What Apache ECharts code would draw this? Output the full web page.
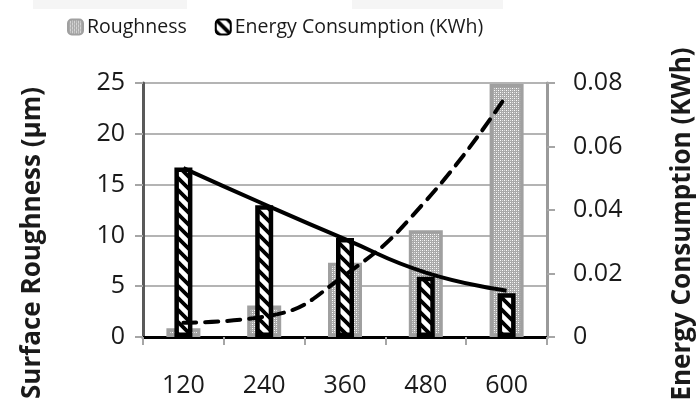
<!DOCTYPE html>
<html>
<head>
<meta charset="utf-8">
<script src="https://cdn.jsdelivr.net/npm/echarts@6/dist/echarts.min.js"></script>
<style>html,body{margin:0;padding:0;background:#fff;}#c{width:697px;height:407px;}</style>
</head>
<body>
<div id="c"></div>
<script>
var categories = ['120', '240', '360', '480', '600'];
var roughness = [0.85, 3.1, 7.3, 10.5, 24.9];
var energy = [0.0534, 0.0415, 0.0312, 0.019, 0.0138];
var roughnessTrend = [1.4, 2.0, 6.1, 13.4, 23.8];
var energyTrend = [0.0532, 0.0418, 0.0308, 0.0203, 0.0146];
var leftTicks = { min: 0, max: 25, interval: 5 };
var rightTicks = { min: 0, max: 0.08, interval: 0.02 };

function dotPattern() {
  var c = document.createElement('canvas');
  c.width = 4; c.height = 4;
  var g = c.getContext('2d');
  g.fillStyle = '#a9a9a9'; g.fillRect(0, 0, 4, 4);
  g.fillStyle = '#ffffff';
  g.fillRect(0, 0, 1, 1); g.fillRect(2, 2, 1, 1);
  g.fillStyle = '#dcdcdc';
  g.fillRect(2, 0, 1, 1); g.fillRect(0, 2, 1, 1);
  return c;
}
function hatchPattern() {
  var s = 12;
  var c = document.createElement('canvas');
  c.width = s; c.height = s;
  var g = c.getContext('2d');
  g.fillStyle = '#ffffff'; g.fillRect(0, 0, s, s);
  g.strokeStyle = '#000000'; g.lineWidth = 3.8;
  g.beginPath();
  g.moveTo(-s, -s); g.lineTo(2 * s, 2 * s);
  g.moveTo(-s, 0); g.lineTo(s, 2 * s);
  g.moveTo(0, -s); g.lineTo(2 * s, s);
  g.stroke();
  return c;
}

var font = '"Open Sans", "Noto Sans", sans-serif';
var chart = echarts.init(document.getElementById('c'), null, { renderer: 'canvas' });
chart.setOption({
  animation: false,
  backgroundColor: '#ffffff',
  textStyle: { fontFamily: font },
  grid: { left: 143, right: 150, top: 83, bottom: 70 },
  legend: {
    left: 62, top: 12,
    itemWidth: 15, itemHeight: 15, itemGap: 28,
    data: ['Roughness', 'Energy Consumption (KWh)'],
    textStyle: { fontSize: 19.5, color: '#1a1a1a', fontFamily: font, padding: [0, 0, 0, -1] }
  },
  graphic: [
    { type: 'rect', shape: { x: 33, y: 0, width: 154, height: 9 }, style: { fill: '#f5f5f5' }, silent: true },
    { type: 'rect', shape: { x: 352, y: 0, width: 151, height: 9 }, style: { fill: '#f5f5f5' }, silent: true },
    { type: 'text', x: 33, y: 243, rotation: Math.PI / 2,
      style: { text: 'Surface Roughness (\u00b5m)', font: 'bold 26px ' + font, fill: '#1a1a1a', align: 'center', verticalAlign: 'middle' } },
    { type: 'text', x: 683, y: 224, rotation: Math.PI / 2,
      style: { text: 'Energy Consumption (KWh)', font: 'bold 26px ' + font, fill: '#1a1a1a', align: 'center', verticalAlign: 'middle' } }
  ],
  xAxis: [
    {
      type: 'category', position: 'bottom', data: categories,
      axisLine: { show: true, lineStyle: { color: '#a6a6a6', width: 2 } },
      axisTick: { show: true, length: 8, lineStyle: { color: '#a6a6a6', width: 2 } },
      axisLabel: { fontSize: 25, color: '#1a1a1a', margin: 36, fontFamily: font },
      splitLine: { show: false }
    },
    {
      type: 'category', position: 'top', data: categories,
      axisLine: { show: true, lineStyle: { color: '#000000', width: 3 } },
      axisTick: { show: false }, axisLabel: { show: false }, splitLine: { show: false }
    }
  ],
  yAxis: [
    {
      type: 'value', position: 'left', min: leftTicks.min, max: leftTicks.max, interval: leftTicks.interval,
      axisLine: { show: true, lineStyle: { color: '#595959', width: 3 } },
      axisTick: { show: true, length: 8, lineStyle: { color: '#a6a6a6', width: 2 } },
      axisLabel: { fontSize: 25, color: '#1a1a1a', margin: 18, fontFamily: font },
      splitLine: { show: true, lineStyle: { color: '#b4b4b4', width: 2 } }
    },
    {
      type: 'value', position: 'right', min: rightTicks.min, max: rightTicks.max, interval: rightTicks.interval,
      axisLine: { show: true, lineStyle: { color: '#9a9a9a', width: 3 } },
      axisTick: { show: true, length: 8, lineStyle: { color: '#a6a6a6', width: 2 } },
      axisLabel: { fontSize: 25, color: '#1a1a1a', margin: 26, fontFamily: font },
      splitLine: { show: false }
    }
  ],
  series: [
    {
      name: 'Roughness', type: 'bar', xAxisIndex: 0, yAxisIndex: 0, data: roughness,
      barWidth: 34, z: 2,
      itemStyle: { color: { image: dotPattern(), repeat: 'repeat' }, borderColor: '#a0a0a0', borderWidth: 3.5 }
    },
    {
      name: 'Energy Consumption (KWh)', type: 'bar', xAxisIndex: 1, yAxisIndex: 1, data: energy,
      barWidth: 18, z: 3,
      itemStyle: { color: { image: hatchPattern(), repeat: 'repeat' }, borderColor: '#000000', borderWidth: 4.5 }
    },
    {
      name: 'Roughness trend', type: 'line', xAxisIndex: 0, yAxisIndex: 0, data: roughnessTrend,
      smooth: true, showSymbol: false, symbol: 'none', z: 5,
      lineStyle: { color: '#000000', width: 4, type: [13, 9], cap: 'round' }
    },
    {
      name: 'Energy trend', type: 'line', xAxisIndex: 0, yAxisIndex: 1, data: energyTrend,
      smooth: true, showSymbol: false, symbol: 'none', z: 5,
      lineStyle: { color: '#000000', width: 4 }
    }
  ]
});
</script>
</body>
</html>
